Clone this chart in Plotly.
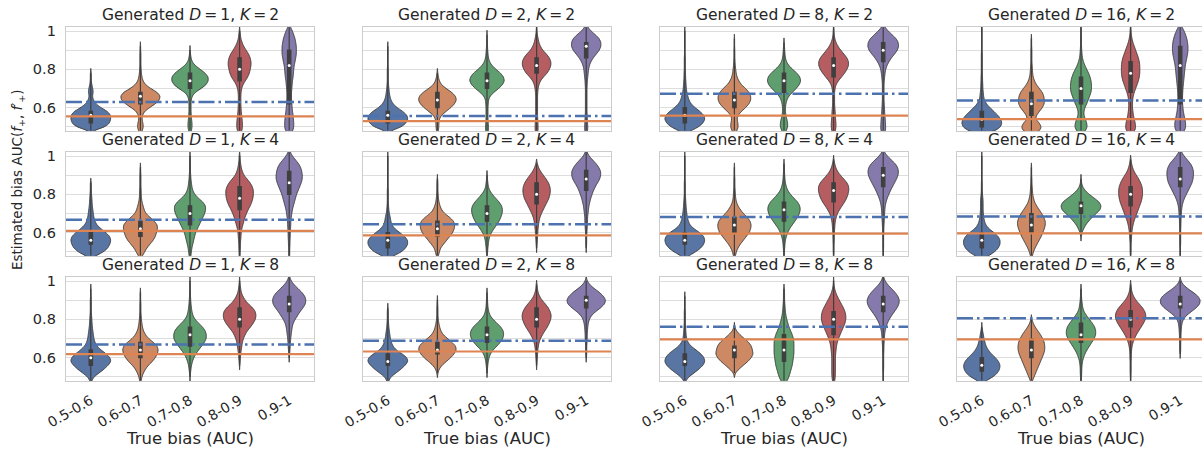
import numpy as np
import plotly.graph_objects as go

# ---------------- data ----------------
CATEGORIES = ['0.5-0.6', '0.6-0.7', '0.7-0.8', '0.8-0.9', '0.9-1']
D_VALUES = [1, 2, 8, 16]
K_VALUES = [2, 4, 8]
BIN_STEP = 0.02  # profiles: relative density of each violin sampled every 0.02 of AUC
Y_TICKS = [0.6, 0.8, 1.0]
Y_TICK_TEXT = ['0.6', '0.8', '1']
Y_MINOR = [0.5, 0.7, 0.9]

# horizontal reference lines, rows = K (2,4,8), cols = D (1,2,8,16)
DASHDOT_LEVEL = [[0.630, 0.556, 0.672, 0.637],
                 [0.667, 0.644, 0.681, 0.684],
                 [0.668, 0.688, 0.761, 0.805]]
SOLID_LEVEL = [[0.554, 0.530, 0.558, 0.540],
               [0.609, 0.586, 0.595, 0.596],
               [0.618, 0.632, 0.695, 0.695]]

# each entry: (first AUC level, relative density profile)
PROFILE_D1_K2 = [
    (0.48, [2, 15, 19, 20, 20, 17, 10, 5, 2.5, 1.5, 2.5, 2, 1, 0.6, 0.5, 0.4]),
    (0.48, [2, 3, 2.5, 1.5, 2, 4, 9, 15, 19, 20, 17, 10, 5, 2.5, 1.5, 1, 0.8, 0.6, 0.5, 0.5, 0.4, 0.3, 0.3]),
    (0.48, [1.5, 2, 2, 1.5, 1.2, 1, 1, 1, 1.2, 2, 5, 11, 16, 18, 18, 15, 10, 5, 2, 1, 0.5, 0.3]),
    (0.48, [3, 3.5, 3.5, 3, 2.5, 2, 1.8, 1.5, 1.5, 1.5, 1.8, 2.5, 4, 7, 10, 12, 13, 14, 14, 13, 11, 8, 5, 3, 1.5, 1, 0.6]),
    (0.48, [6, 7, 7, 6.5, 6, 5, 4.5, 4, 3.5, 3.5, 3.5, 4, 4.5, 5, 6, 6.5, 7, 7.5, 9, 10, 11, 11, 11, 10, 9, 7, 5, 2]),
]
PROFILE_D1_K4 = [
    (0.48, [5, 13, 17, 19, 20, 19, 15, 10, 6, 4, 3, 2.5, 2, 1.5, 1.2, 1, 0.8, 0.6, 0.5, 0.4]),
    (0.48, [2, 4, 6, 9, 12, 14, 15, 16, 16, 13, 9, 5, 3.5, 2.5, 1.5, 1, 0.8, 0.7, 0.6, 0.5, 0.4, 0.4, 0.3, 0.3]),
    (0.48, [1, 1.5, 2, 3, 4, 5, 6, 8, 10, 12, 14, 16, 17, 17, 14, 9, 5, 3, 2, 1.5, 1, 0.8, 0.6, 0.5, 0.4, 0.3, 0.3]),
    (0.48, [0.5, 0.6, 0.7, 0.8, 1, 1.2, 1.5, 2, 3, 4, 5, 6.5, 8, 10, 11.5, 12.5, 13, 13, 12, 10, 7, 4, 2.5, 1.5, 1, 0.6, 0.4]),
    (0.48, [0.5, 0.5, 0.6, 0.7, 0.8, 1, 1, 1.2, 1.4, 1.6, 2, 2.5, 3, 4, 5, 6, 7, 8.5, 10, 11.5, 12.5, 12.5, 12, 11, 9, 6, 3, 1]),
]
PROFILE_D1_K8 = [
    (0.48, [1, 3, 8, 13, 17, 20, 19, 15, 10, 6, 4, 3, 2.5, 2, 1.5, 1.2, 1, 0.8, 0.6, 0.5, 0.4, 0.4, 0.3, 0.3, 0.3]),
    (0.48, [0.8, 1.5, 3, 5, 8, 12, 15, 17, 18, 17, 13, 8, 5, 3, 2, 1.5, 1, 0.8, 0.6, 0.5, 0.4, 0.3, 0.3, 0.2]),
    (0.50, [0.3, 0.6, 1, 1.5, 2.5, 4, 6, 9, 12, 15, 17, 17, 16, 13, 9, 5, 3, 2, 1.5, 1, 0.7, 0.5, 0.4, 0.3, 0.3, 0.2]),
    (0.56, [0.3, 0.5, 0.7, 1, 1.5, 2, 2.5, 3.5, 5, 7, 10, 12.5, 14.5, 15, 14.5, 12, 8, 5, 3, 1.5, 1, 0.5, 0.3]),
    (0.60, [0.3, 0.5, 0.7, 1, 1.2, 1.5, 2, 2.5, 3, 4, 6, 8.5, 11, 14, 16.5, 17, 16, 13, 9, 5, 2, 0.5]),
]
PROFILE_D2_K2 = [
    (0.48, [3, 14, 18, 20, 19, 15, 9, 5, 3, 2, 1.5, 1, 0.8, 0.6, 0.5, 0.4, 0.4, 0.3, 0.3, 0.3, 0.3, 0.2, 0.2]),
    (0.48, [1, 1.5, 1.5, 2, 4, 9, 14, 18, 20, 19, 15, 9, 4, 2, 1, 0.5]),
    (0.48, [1.5, 1.5, 1.2, 1, 1, 1, 1, 1.2, 1.5, 3, 7, 12, 16, 18, 17, 14, 9, 5, 2.5, 1.5, 1, 0.7, 0.5, 0.4, 0.3, 0.3]),
    (0.48, [2, 2, 1.8, 1.5, 1.3, 1.2, 1.2, 1.2, 1.2, 1.3, 1.5, 2, 3, 5, 9, 14, 17, 19, 19, 17, 13, 8, 5, 3, 2, 1, 0.5, 0.3]),
    (0.48, [2, 2, 1.8, 1.5, 1.2, 1, 1, 1, 1, 1, 1, 1.1, 1.2, 1.5, 2, 2.5, 3, 4, 6, 9, 13, 17, 19, 19, 17, 12, 6, 2]),
]
PROFILE_D2_K4 = [
    (0.48, [6, 14, 18, 20, 20, 17, 12, 7, 4, 3, 2.5, 1.5, 1, 0.8, 0.6, 0.5, 0.4, 0.4, 0.3, 0.3, 0.3, 0.3, 0.2, 0.2, 0.2, 0.2, 0.2]),
    (0.48, [1, 2, 3, 6, 9, 12, 15, 16.5, 17, 16, 12, 7, 4, 2.5, 1.5, 1, 0.8, 0.6, 0.5, 0.4, 0.3]),
    (0.48, [0.3, 0.7, 1, 1.5, 2, 3, 5, 8, 11, 14, 16, 17.5, 18, 17, 14, 10, 6, 3, 1.5, 1, 0.6, 0.4]),
    (0.52, [0.3, 0.5, 0.7, 1, 1.2, 1.5, 2, 2.5, 3.5, 5, 7, 9, 11, 13, 14, 14.5, 14, 12.5, 10, 7, 4, 2, 0.8]),
    (0.52, [0.3, 0.4, 0.5, 0.6, 0.8, 1, 1.2, 1.4, 1.6, 2, 2.5, 3, 4, 5, 6.5, 8, 10, 12.5, 15, 16, 16, 14, 11, 7, 3, 1]),
]
PROFILE_D2_K8 = [
    (0.48, [1, 3, 8, 13, 17, 20, 19, 14, 8, 5, 3.5, 2.5, 2, 1.5, 1, 0.8, 0.6, 0.5, 0.4, 0.3]),
    (0.52, [0.5, 1.5, 4, 8, 12, 15, 17, 16.5, 13, 9, 5, 3, 2, 1.2, 0.8, 0.6, 0.5, 0.4, 0.3, 0.2]),
    (0.52, [0.3, 0.5, 0.8, 1.2, 2, 3.5, 6, 10, 13.5, 16, 17, 16.5, 14, 10, 6, 3, 1.8, 1, 0.7, 0.5, 0.4, 0.3]),
    (0.56, [0.3, 0.5, 0.7, 1, 1.3, 1.7, 2.5, 4, 6, 8.5, 11, 13, 14.5, 15, 14, 12, 9, 5.5, 3, 1.5, 0.8, 0.4]),
    (0.60, [0.3, 0.4, 0.5, 0.6, 0.7, 0.9, 1.1, 1.3, 1.6, 2, 3, 5, 9, 14, 18, 19, 17, 13, 8, 3.5, 1]),
]
PROFILE_D8_K2 = [
    (0.48, [6, 14, 18, 20, 19, 15, 10, 6, 4, 3, 2, 1.5, 1.2, 1, 0.8, 0.7, 0.6, 0.5, 0.4, 0.4, 0.3, 0.3, 0.3, 0.3, 0.2, 0.2, 0.2]),
    (0.48, [3, 4.5, 4, 3, 4, 8, 13, 17, 19, 19, 17, 13, 8, 5, 3, 2, 1.5, 1, 0.8, 0.6, 0.5, 0.4, 0.3, 0.3, 0.2]),
    (0.48, [2.5, 4, 4, 3, 2, 1.5, 1.5, 2, 3, 5, 9, 13, 16.5, 18, 17, 14, 9, 5, 2.5, 1.5, 1, 0.7, 0.5, 0.3]),
    (0.48, [2.5, 3, 3, 2.5, 2.2, 2, 1.5, 1.3, 1.2, 1.2, 1.3, 1.8, 3, 6, 10, 14, 17, 19, 19, 17, 13, 9, 5.5, 3, 1.5, 0.8, 0.4, 0.2]),
    (0.48, [3, 3, 2.8, 2.5, 2, 1.7, 1.4, 1.2, 1, 1, 1, 1, 1.1, 1.3, 1.7, 2.2, 3, 4.5, 7, 10, 14, 17.5, 19, 18.5, 16, 11, 6, 2]),
]
PROFILE_D8_K4 = [
    (0.48, [4, 11, 16, 19, 20, 19, 15, 9, 5, 3.5, 2.5, 2, 1.5, 1.2, 1, 0.8, 0.6, 0.5, 0.4, 0.4, 0.3, 0.3, 0.3, 0.2, 0.2, 0.2, 0.2]),
    (0.48, [1, 2, 3.5, 6, 9, 12, 15, 16.5, 17, 16, 13, 9, 6, 3.5, 2, 1.3, 1, 0.8, 0.6, 0.5, 0.4, 0.3, 0.3, 0.2]),
    (0.48, [0.3, 0.5, 0.7, 1, 1.5, 2.5, 4, 6, 9, 12, 15, 17, 18, 17.5, 15, 11, 7, 4, 2.5, 1.5, 1, 0.7, 0.5, 0.4, 0.3]),
    (0.48, [0.3, 0.4, 0.5, 0.6, 0.7, 0.8, 1, 1.2, 1.5, 2, 3, 4.5, 7, 10, 13, 15.5, 17, 18, 18, 16, 12, 8, 4.5, 2.5, 1.2, 0.5]),
    (0.48, [0.3, 0.3, 0.4, 0.4, 0.5, 0.6, 0.7, 0.8, 1, 1.2, 1.4, 1.7, 2, 2.5, 3.5, 5, 7, 9, 11.5, 14, 16.5, 18.5, 19, 18, 15, 10, 5, 1.5]),
]
PROFILE_D8_K8 = [
    (0.48, [1, 4, 9, 14, 18, 20, 19, 16, 11, 6, 3, 1.8, 1.2, 0.9, 0.7, 0.6, 0.5, 0.4, 0.4, 0.3, 0.3, 0.3, 0.2]),
    (0.52, [1, 5, 10, 15, 19, 21, 20, 19, 16, 11, 6, 2, 0.5]),
    (0.48, [3, 4.5, 5.5, 6.5, 7.5, 8, 8.5, 9, 9, 9, 9, 8.5, 7.5, 6, 4.5, 3.5, 2.5, 1.8, 1.3, 1, 0.8, 0.6, 0.5, 0.4, 0.3]),
    (0.48, [1.5, 2, 2.2, 2.3, 2.3, 2.3, 2.3, 2.5, 3, 3.5, 4.5, 6, 8, 10, 12, 14, 15, 15, 14, 12, 9.5, 7, 4.5, 2.5, 1.3, 0.6, 0.3]),
    (0.48, [0.3, 0.3, 0.3, 0.4, 0.4, 0.5, 0.5, 0.6, 0.7, 0.8, 1, 1.2, 1.5, 2, 3, 4.5, 6.5, 9, 12, 15, 17, 17.5, 16, 13, 9, 5, 2, 0.5]),
]
PROFILE_D16_K2 = [
    (0.48, [14, 19, 20, 19, 16, 12, 8, 4.5, 2.5, 1.8, 1.4, 1.1, 0.9, 0.8, 0.7, 0.6, 0.5, 0.5, 0.4, 0.4, 0.4, 0.3, 0.3, 0.3, 0.3, 0.3, 0.3, 0.2]),
    (0.48, [9, 10, 8, 4, 5, 8, 11, 13, 13, 12.5, 11, 8, 5, 3, 1.8, 1.2, 0.9, 0.7, 0.6, 0.5, 0.4, 0.4, 0.3, 0.3, 0.2]),
    (0.48, [5, 6.5, 6, 4.5, 3, 3, 4, 6, 7.5, 9, 10.5, 11, 11, 10.5, 9.5, 8, 6, 4, 2.5, 1.5, 1, 0.8, 0.6, 0.5, 0.4, 0.3, 0.3, 0.2]),
    (0.48, [5, 5.5, 5, 4, 3, 2.5, 2, 2, 2.2, 2.8, 4, 5.5, 7, 8.5, 9.5, 10, 10, 10, 9.5, 8.5, 7, 5.5, 4, 2.5, 1.5, 0.8, 0.4, 0.2]),
    (0.48, [6, 7, 7, 6, 5, 4, 3.5, 3, 3, 3, 3.2, 3.5, 4, 4.5, 5, 5.5, 6, 6.5, 7.5, 8.5, 9.5, 10, 10, 9.5, 8.5, 7, 5, 2.5]),
]
PROFILE_D16_K4 = [
    (0.48, [8, 15, 19, 21, 21, 19, 14, 8, 4.5, 3, 2.2, 1.8, 1.6, 1.6, 1.6, 1.2, 0.8, 0.6, 0.5, 0.4, 0.3, 0.3, 0.3, 0.2, 0.2, 0.2, 0.2]),
    (0.48, [1, 2, 3.5, 5.5, 7.5, 9.5, 11, 12.5, 13.5, 13.5, 12, 10, 7.5, 5, 3, 2, 1.3, 1, 0.7, 0.5, 0.4, 0.3, 0.3, 0.2]),
    (0.58, [0.3, 1, 2.5, 4.5, 7.5, 11, 15, 19, 20, 18, 13, 8, 4, 1.5, 0.5, 0.2]),
    (0.48, [0.3, 0.4, 0.5, 0.6, 0.8, 1, 1.3, 1.8, 2.5, 3.5, 5, 6.5, 8, 9.5, 11, 12, 12.5, 12.5, 12, 10.5, 8.5, 6, 3.5, 2, 1, 0.4]),
    (0.48, [0.3, 0.3, 0.3, 0.4, 0.4, 0.5, 0.5, 0.6, 0.7, 0.8, 1, 1.2, 1.5, 2, 3, 4.5, 6.5, 8.5, 10.5, 12.5, 13.5, 14, 14, 13, 11, 7.5, 4, 1.5]),
]
PROFILE_D16_K8 = [
    (0.48, [4, 11, 15, 17, 17.5, 16, 13, 9, 6, 4, 3, 2, 1.5, 0.8, 0.3]),
    (0.48, [1, 2.5, 4, 5.5, 7, 8.5, 10, 11.5, 12.5, 12.5, 12, 10.5, 8.5, 6, 3.5, 1.5, 0.4]),
    (0.48, [0.5, 0.6, 0.7, 0.8, 1, 1.5, 2.5, 4, 6, 8.5, 11, 13.5, 15, 15, 14, 11.5, 8.5, 5.5, 3, 1.8, 1.2, 0.8, 0.6, 0.4, 0.3]),
    (0.48, [0.3, 0.3, 0.4, 0.4, 0.5, 0.6, 0.7, 0.8, 1, 1.5, 2.5, 4, 6, 8.5, 11, 13.5, 15.5, 16, 15, 12.5, 9, 5.5, 3, 1.5, 0.8, 0.4]),
    (0.62, [0.3, 0.4, 0.5, 0.6, 0.7, 0.8, 1, 1.3, 1.8, 3, 6, 11, 16, 19.5, 20, 18, 13, 7.5, 3, 0.8]),
]

PROFILES = {
    (1, 2): PROFILE_D1_K2, (1, 4): PROFILE_D1_K4, (1, 8): PROFILE_D1_K8,
    (2, 2): PROFILE_D2_K2, (2, 4): PROFILE_D2_K4, (2, 8): PROFILE_D2_K8,
    (8, 2): PROFILE_D8_K2, (8, 4): PROFILE_D8_K4, (8, 8): PROFILE_D8_K8,
    (16, 2): PROFILE_D16_K2, (16, 4): PROFILE_D16_K4, (16, 8): PROFILE_D16_K8,
}

# ---------------- styling ----------------
W, H = 1202, 455
FILL = ['#5875A4', '#CC8963', '#5F9E6E', '#B55D60', '#857AAB']
EDGE = '#404040'
TXT = '#262626'
FONT = 'DejaVu Sans'
COL_PX = [(66, 314), (363, 611), (660, 908), (957, 1205)]
ROW_PX = [(27, 131), (152, 256), (277, 381)]
YR = [0.478, 1.021]
CAT_PX = 248 / 5.0
BW = 0.012
MAX_WIDTH = 0.8

fig = go.Figure()
layout = dict(
    width=W, height=H, margin=dict(l=0, r=0, t=0, b=0, autoexpand=False),
    paper_bgcolor='white', plot_bgcolor='white', showlegend=False,
    violinmode='overlay', boxmode='overlay', hovermode=False,
    font=dict(family=FONT, color=TXT, size=14),
)
shapes, annotations = [], []


def peak_density(levels, counts):
    grid = np.linspace(levels.min() - 3 * BW, levels.max() + 3 * BW, 400)
    k = np.exp(-0.5 * ((grid[:, None] - levels[None, :]) / BW) ** 2)
    dens = k @ counts / (counts.sum() * BW * np.sqrt(2 * np.pi))
    return dens.max()


for r, K in enumerate(K_VALUES):
    for c, D in enumerate(D_VALUES):
        i = r * 4 + c + 1
        xa = 'x' if i == 1 else f'x{i}'
        ya = 'y' if i == 1 else f'y{i}'
        x0p, x1p = COL_PX[c]
        y0p, y1p = ROW_PX[r]
        xdom = [x0p / W, min(1.0, x1p / W)]
        vis_w = min(x1p, W) - x0p
        xr = [-0.5, -0.5 + vis_w / CAT_PX]
        layout['xaxis' if i == 1 else f'xaxis{i}'] = dict(
            domain=xdom, anchor=ya, type='category', automargin=False,
            categoryorder='array', categoryarray=CATEGORIES,
            range=xr, showgrid=False, zeroline=False,
            showline=True, mirror=True, linecolor='#cccccc', linewidth=1.2,
            ticks='outside', ticklen=5, tickcolor='rgba(0,0,0,0)',
            showticklabels=(r == 2), tickangle=-30,
            tickfont=dict(size=14, color=TXT, family=FONT),
        )
        layout['yaxis' if i == 1 else f'yaxis{i}'] = dict(
            domain=[1 - y1p / H, 1 - y0p / H], anchor=xa, range=YR, automargin=False,
            tickmode='array', tickvals=Y_TICKS, ticktext=Y_TICK_TEXT,
            showgrid=True, gridcolor='#dddddd', gridwidth=1, zeroline=False,
            minor=dict(tickvals=Y_MINOR, showgrid=True, gridcolor='#dddddd',
                       gridwidth=1, ticks=''),
            showline=True, mirror=True, linecolor='#cccccc', linewidth=1.2,
            ticks='outside', ticklen=6, tickcolor='rgba(0,0,0,0)',
            showticklabels=(c == 0),
            tickfont=dict(size=14.5, color=TXT, family=FONT),
        )
        samples, peaks = [], []
        for start, prof in PROFILES[(D, K)]:
            prof = np.array(prof, dtype=float)
            levels = start + BIN_STEP * np.arange(len(prof))
            counts = np.maximum(1, np.round(prof * 4)).astype(int)
            samples.append(np.repeat(levels, counts))
            peaks.append(peak_density(levels, counts.astype(float)))
        top = max(peaks)
        meds = []
        for j, vals in enumerate(samples):
            cat = CATEGORIES[j]
            meds.append(float(np.median(vals)))
            fig.add_trace(go.Violin(
                x=[cat] * len(vals), y=vals, xaxis=xa, yaxis=ya,
                width=MAX_WIDTH * peaks[j] / top, scalemode='width',
                bandwidth=BW, spanmode='soft', points=False,
                fillcolor=FILL[j], line=dict(color=EDGE, width=1),
                box_visible=False, meanline_visible=False,
                hoverinfo='skip', name=f'v{i}_{j}', scalegroup=f'v{i}_{j}',
            ))
            fig.add_trace(go.Box(
                x=[cat] * len(vals), y=vals, xaxis=xa, yaxis=ya,
                width=0.068, fillcolor='#3f3f3f',
                line=dict(color='#3f3f3f', width=1.2), whiskerwidth=0,
                boxpoints=False, hoverinfo='skip', name=f'b{i}_{j}',
            ))
        fig.add_trace(go.Scatter(
            x=CATEGORIES, y=meds, xaxis=xa, yaxis=ya, mode='markers',
            marker=dict(color='white', size=3, line=dict(width=0)),
            hoverinfo='skip',
        ))
        shapes.append(dict(type='line', xref=f'{xa} domain', yref=ya,
                           x0=0, x1=1, y0=SOLID_LEVEL[r][c], y1=SOLID_LEVEL[r][c],
                           line=dict(color='#DD8452', width=2.2), layer='above'))
        shapes.append(dict(type='line', xref=f'{xa} domain', yref=ya,
                           x0=0, x1=1, y0=DASHDOT_LEVEL[r][c], y1=DASHDOT_LEVEL[r][c],
                           line=dict(color='#4C72B0', width=2.5, dash='16px,4px,2.5px,4px'),
                           layer='above'))
        annotations.append(dict(
            text=f'Generated <i>D</i>\u2009=\u2009{D}, <i>K</i>\u2009=\u2009{K}',
            xref='paper', yref='paper', x=(x0p + 248 / 2) / W, y=1 - (y0p - 12) / H,
            xanchor='center', yanchor='middle', showarrow=False,
            font=dict(size=15.5, color=TXT, family=FONT)))
        if r == 2:
            annotations.append(dict(
                text='True bias (AUC)', xref='paper', yref='paper',
                x=(x0p + 248 / 2) / W, y=1 - 438 / H, xanchor='center', yanchor='middle',
                showarrow=False, font=dict(size=16.5, color=TXT, family=FONT)))

annotations.append(dict(
    text='Estimated bias AUC(<i>f</i><sub>+</sub>, <i>f</i>\u2032<sub>+</sub>)',
    xref='paper', yref='paper', x=18 / W, y=1 - 180 / H, textangle=-90,
    xanchor='center', yanchor='middle', showarrow=False,
    font=dict(size=13.5, color=TXT, family=FONT)))

layout['shapes'] = shapes
layout['annotations'] = annotations
fig.update_layout(**layout)
fig.write_html('out.html', config={'displayModeBar': False, 'staticPlot': True},
               post_script="document.body.style.margin='0';document.body.style.overflow='hidden';")
